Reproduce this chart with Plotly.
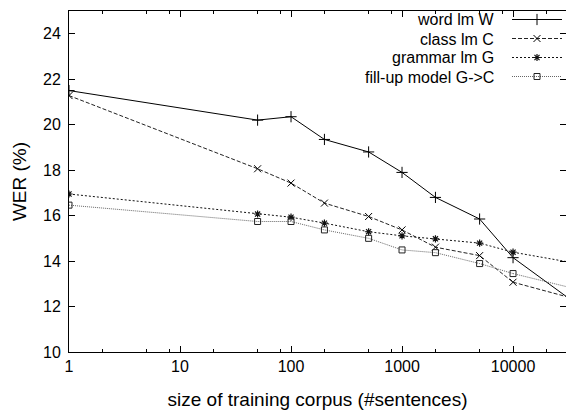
import math
import plotly.graph_objects as go

corpus_size = [1, 50, 100, 200, 500, 1000, 2000, 5000, 10000, 30000]
wer_word = [21.5, 20.2, 20.35, 19.35, 18.8, 17.9, 16.8, 15.85, 14.15, 12.45]
wer_class = [21.28, 18.06, 17.43, 16.55, 15.96, 15.37, 14.61, 14.24, 13.07, 12.44]
wer_grammar = [16.95, 16.07, 15.93, 15.67, 15.29, 15.11, 14.98, 14.79, 14.39, 13.98]
wer_fillup = [16.46, 15.74, 15.74, 15.37, 15.0, 14.49, 14.37, 13.89, 13.45, 12.88]

series_names = ["word lm W", "class lm C", "grammar lm G", "fill-up model G->C"]
x_tickvals = [1, 10, 100, 1000, 10000]
x_ticktext = ["1", "10", "100", "1000", "10000"]
x_minor = [m * 10 ** d for d in range(5) for m in (2, 5, 8)]

FONT = "Liberation Sans, Arial, sans-serif"

styles = [
    dict(line=dict(color="black", width=1, dash="solid"),
         marker=dict(symbol="cross-thin", size=8, line=dict(color="black", width=1))),
    dict(line=dict(color="#222", width=1, dash="4px,2px"),
         marker=dict(symbol="x-thin", size=7, line=dict(color="black", width=1))),
    dict(line=dict(color="#111", width=1, dash="2px,2px"),
         marker=dict(symbol="asterisk-open", size=6, line=dict(color="black", width=1.2))),
    dict(line=dict(color="#666", width=1, dash="1px,1px"),
         marker=dict(symbol="square-open", size=6, color="#222", line=dict(color="#222", width=1))),
]

fig = go.Figure()
for ys, st in zip([wer_word, wer_class, wer_grammar, wer_fillup], styles):
    # measured points with markers
    fig.add_trace(go.Scatter(x=corpus_size[:-1], y=ys[:-1], mode="lines+markers",
                             name="", line=st["line"], marker=st["marker"]))
    # last segment runs into the clipped right edge, no marker there
    fig.add_trace(go.Scatter(x=corpus_size[-2:], y=ys[-2:], mode="lines",
                             name="", line=st["line"], showlegend=False))

H = 410
T, B = 11, 58
ph = H - T - B
leg_first = 20
leg_step = 19
for i, nm in enumerate(series_names):
    ypx = leg_first + i * leg_step
    fig.add_annotation(text=nm, xref="paper", yref="paper",
                       x=(496 - 69) / 497, y=1 - (ypx - T) / ph,
                       xanchor="right", yanchor="middle", showarrow=False,
                       font=dict(family=FONT, size=16, color="black"))

fig.update_layout(
    width=566, height=410,
    margin=dict(l=69, r=0, t=T, b=B, autoexpand=False),
    paper_bgcolor="white", plot_bgcolor="white",
    font=dict(family=FONT, size=16, color="black"),
    legend=dict(x=(507 - 69) / 497, y=1 + 6 / ph, xanchor="left", yanchor="top",
                bgcolor="rgba(0,0,0,0)", itemwidth=50,
                font=dict(size=10), tracegroupgap=0),
    showlegend=True,
)
fig.update_xaxes(
    type="log", range=[0, math.log10(30000)],
    tickvals=x_tickvals, ticktext=x_ticktext,
    ticks="inside", ticklen=6, tickcolor="black",
    minor=dict(tickvals=x_minor, ticks="inside", ticklen=3, tickcolor="black"),
    showline=True, linecolor="black", linewidth=1, mirror="allticks",
    showgrid=False, zeroline=False, automargin=False,
    title=dict(text="size of training corpus (#sentences)", standoff=22),
    ticklabelstandoff=0,
)
fig.update_yaxes(
    range=[10, 25], tick0=10, dtick=2,
    ticks="inside", ticklen=6, tickcolor="black",
    showline=True, linecolor="black", linewidth=1, mirror="allticks",
    showgrid=False, zeroline=False, automargin=False,
    title=dict(text="WER (%)", standoff=11),
    ticklabelstandoff=4,
)

fig.write_html(
    "out.html",
    config={"displayModeBar": False},
    post_script="document.body.style.margin='0';document.body.style.overflow='hidden';",
)
